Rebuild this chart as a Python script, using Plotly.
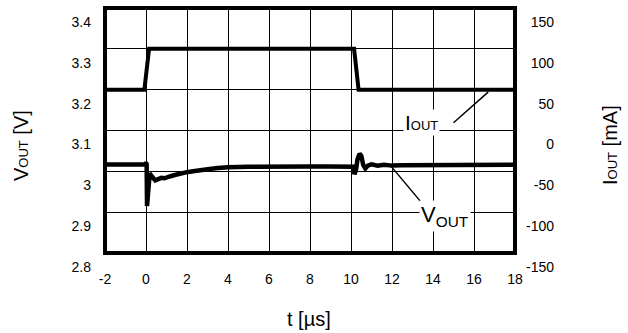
import plotly.graph_objects as go

# ---------------- data ----------------
t_iout = [-2.0, -0.08, 0.15, 10.15, 10.37, 18.0]
i_out = [50, 50, 100, 100, 50, 50]

t_vout = [-2.0, -1.0, -0.05, 0.0, 0.03, 0.05, 0.08, 0.12, 0.18, 0.25, 0.35,
          0.45, 0.6, 0.75, 0.9, 1.05, 1.2, 1.4, 1.6, 1.8, 2.0, 2.3, 2.6,
          3.0, 3.5, 4.0, 5.0, 6.0, 7.0, 8.0, 9.0, 10.0, 10.12, 10.17, 10.24,
          10.32, 10.42, 10.5, 10.6, 10.7, 10.82, 11.0, 11.3, 11.6, 12.0,
          12.5, 13.0, 14.0, 15.0, 16.0, 17.0, 18.0]
v_out = [3.017, 3.017, 3.017, 3.021, 3.018, 2.915, 2.93, 2.97, 2.995, 2.99,
         2.982, 2.978, 2.981, 2.984, 2.983, 2.987, 2.988, 2.991, 2.994, 2.996,
         2.998, 3.0, 3.003, 3.005, 3.008, 3.010, 3.011, 3.012, 3.012, 3.012,
         3.012, 3.011, 3.011, 2.993, 3.003, 3.03, 3.043, 3.038, 3.015, 3.007,
         3.014, 3.017, 3.014, 3.016, 3.014, 3.015, 3.015, 3.015, 3.016, 3.016,
         3.016, 3.016]

x_ticks = [-2, 0, 2, 4, 6, 8, 10, 12, 14, 16, 18]
v_ticks = [2.8, 2.9, 3.0, 3.1, 3.2, 3.3, 3.4]
v_tick_text = ["2.8", "2.9", "3", "3.1", "3.2", "3.3", "3.4"]
i_ticks = [-150, -100, -50, 0, 50, 100, 150]
i_tick_text = ["-150", "-100", "-50", "0", "50", "100", "150"]

# ---------------- layout geometry ----------------
W, H = 628, 333
ML, MR, MT, MB = 105, 40, 8, 80
PW = W - ML - MR          # paper width in px
PH = H - MT - MB          # paper height in px
PLOT_W = 410              # plot area width in px


def px(xp):
    return (xp - ML) / PW


def py(yp):
    return (H - MB - yp) / PH


FONT = "Liberation Sans, Arial, sans-serif"

fig = go.Figure()
fig.add_trace(go.Scatter(x=t_vout, y=v_out, mode="lines",
                         line=dict(color="black", width=4.5),
                         yaxis="y", showlegend=False, hoverinfo="skip"))
fig.add_trace(go.Scatter(x=t_iout, y=i_out, mode="lines",
                         line=dict(color="black", width=4),
                         yaxis="y2", showlegend=False, hoverinfo="skip"))

fig.update_layout(
    width=W, height=H, template="none",
    paper_bgcolor="white", plot_bgcolor="white",
    margin=dict(l=ML, r=MR, t=MT, b=MB, pad=0),
    font=dict(family=FONT, size=14, color="black"),
    xaxis=dict(domain=[0, PLOT_W / PW], range=[-2, 18],
               tickvals=x_ticks, ticktext=[str(v) for v in x_ticks],
               showgrid=True, gridcolor="black", gridwidth=1,
               zeroline=False, showline=False, ticks="",
               ticklabelstandoff=16, automargin=False,
               ticklabeloverflow="allow",
               tickfont=dict(size=14)),
    yaxis=dict(range=[2.8, 3.4], tickvals=v_ticks, ticktext=v_tick_text,
               showgrid=True, gridcolor="black", gridwidth=1,
               zeroline=False, showline=False, ticks="",
               ticklabelstandoff=13, ticklabelshift=14, automargin=False,
               ticklabeloverflow="allow",
               tickfont=dict(size=14)),
    yaxis2=dict(range=[-150, 150], tickvals=i_ticks, ticktext=i_tick_text,
                overlaying="y", anchor="free", side="left",
                position=px(556), showgrid=False, zeroline=False,
                showline=False, ticks="", ticklabelstandoff=2,
                ticklabelshift=14, automargin=False,
                ticklabeloverflow="allow",
                tickfont=dict(size=14)),
)

# plot border
fig.add_shape(type="rect", xref="x domain", yref="y domain",
              x0=0, x1=1, y0=0, y1=1,
              line=dict(color="black", width=4), layer="above")

# leader lines
fig.add_shape(type="line", xref="x", yref="y", x0=15.0, y0=3.119,
              x1=16.69, y1=3.194, line=dict(color="black", width=1.5))
fig.add_shape(type="line", xref="x", yref="y", x0=11.97, y0=3.0115,
              x1=13.43, y1=2.924, line=dict(color="black", width=1.5))

# curve labels
fig.add_annotation(x=px(421), y=py(123), xref="paper", yref="paper",
                   text="I<span style='font-size:13px'>OUT</span>",
                   showarrow=False, font=dict(size=21, family=FONT),
                   bgcolor="white", xanchor="center", yanchor="middle")
fig.add_annotation(x=px(445), y=py(216), xref="paper", yref="paper",
                   text="V<sub>OUT</sub>",
                   showarrow=False, font=dict(size=22, family=FONT),
                   bgcolor="white", xanchor="center", yanchor="middle")

# axis titles
fig.add_annotation(x=px(309), y=py(319), xref="paper", yref="paper",
                   text="t [µs]", showarrow=False,
                   font=dict(size=20, family=FONT),
                   xanchor="center", yanchor="middle")
fig.add_annotation(x=px(21), y=py(146), xref="paper", yref="paper",
                   text="V<span style='font-size:13px'>OUT</span> [V]",
                   textangle=-90, showarrow=False,
                   font=dict(size=20, family=FONT),
                   xanchor="center", yanchor="middle")
fig.add_annotation(x=px(610), y=py(145), xref="paper", yref="paper",
                   text="I<span style='font-size:13px'>OUT</span> [mA]",
                   textangle=-90, showarrow=False,
                   font=dict(size=20, family=FONT),
                   xanchor="center", yanchor="middle")

# the page's default body margin would shift the figure; remove it
fig.write_html("out.html",
               config={"displayModeBar": False},
               post_script="document.body.style.margin='0';")
